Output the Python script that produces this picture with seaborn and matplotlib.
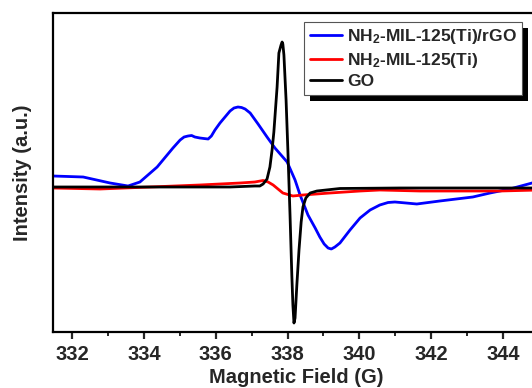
import matplotlib
matplotlib.use("Agg")
import matplotlib.pyplot as plt
import seaborn as sns
import pandas as pd
from matplotlib.patches import Rectangle
from matplotlib.ticker import MultipleLocator

# ---------------- data (Magnetic field in G, intensity in a.u.) ----------------
go_field = [331.47, 334.17, 336.40, 337.09, 337.23, 337.32, 337.43, 337.51, 337.57,
            337.62, 337.71, 337.76, 337.82, 337.85, 337.87, 337.90, 337.96, 338.01,
            338.07, 338.12, 338.15, 338.18, 338.21, 338.26, 338.32, 338.38, 338.43,
            338.51, 338.63, 338.82, 339.46, 341.13, 345.0]
go_int = [145, 145, 145, 146, 146, 148, 153, 165, 182,
          200, 245, 279, 287, 290, 288, 277, 232, 182,
          117, 57, 27, 9, 14, 47, 82, 110, 125,
          134, 139, 141, 143.5, 144, 144]

rgo_field = [331.47, 332.31, 333.06, 333.56, 333.89, 334.37, 334.81, 335.01, 335.12,
             335.23, 335.33, 335.42, 335.56, 335.67, 335.79, 335.88, 335.98, 336.12,
             336.40, 336.51, 336.62, 336.72, 336.82, 336.96, 337.18, 337.43, 337.65,
             337.99, 338.21, 338.35, 338.57, 338.77, 338.90, 339.02, 339.13, 339.22,
             339.32, 339.46, 339.74, 340.02, 340.30, 340.57, 340.80, 340.99, 341.30,
             341.60, 342.24, 343.16, 343.64, 344.19, 344.81, 345.0]
rgo_int = [156, 155, 149, 146, 150, 165, 184, 192, 195,
           196, 196.5, 195, 194, 193.5, 193, 196, 202, 209,
           221, 224, 225, 224.5, 223, 219, 208, 195, 184,
           170, 152, 137, 117, 104, 95, 88, 84, 83,
           85, 89, 102, 114, 122, 127, 129.5, 130, 129,
           128, 131, 135, 139, 143, 149, 152]

mil_field = [331.47, 332.78, 334.17, 335.56, 336.68, 337.09, 337.32, 337.46, 337.60,
             337.87, 338.15, 338.43, 339.18, 340.02, 340.57, 341.69, 342.80, 343.92, 345.0]
mil_int = [144, 143, 145, 147, 149, 150, 151.5, 150, 147,
           139, 136, 137, 139, 141, 142, 141, 141, 141, 142]

labels = [r"NH$_\mathbf{2}$-MIL-125(Ti)/rGO", r"NH$_\mathbf{2}$-MIL-125(Ti)", "GO"]
colors = ["#0000ff", "#ff0000", "#000000"]
xticks = [332, 334, 336, 338, 340, 342, 344]

# ---------------- style ----------------
sns.set_style("ticks")
plt.rcParams["font.family"] = ["Liberation Sans", "DejaVu Sans"]
plt.rcParams["font.weight"] = "bold"
plt.rcParams["mathtext.fontset"] = "custom"
plt.rcParams["mathtext.rm"] = "Liberation Sans:bold"
plt.rcParams["mathtext.bf"] = "Liberation Sans:bold"
plt.rcParams["mathtext.default"] = "bf"

W, H = 532, 388
fig = plt.figure(figsize=(W / 100, H / 100), dpi=100)
left_px, right_px, top_px, bottom_px = 53, 538.9, 13, 332
ax = fig.add_axes([left_px / W, 1 - bottom_px / H,
                   (right_px - left_px) / W, (bottom_px - top_px) / H])

frames = [
    (rgo_field, rgo_int, labels[0], colors[0]),
    (mil_field, mil_int, labels[1], colors[1]),
    (go_field, go_int, labels[2], colors[2]),
]
for fx, fy, lab, col in frames:
    df = pd.DataFrame({"field": fx, "intensity": fy})
    sns.lineplot(data=df, x="field", y="intensity", ax=ax, color=col,
                 linewidth=2.0, label=lab, sort=False, estimator=None)

ax.set_xlim(331.47, 345.0)
ax.set_ylim(0, 319)
ax.set_xticks(xticks)
ax.set_xticklabels([str(t) for t in xticks])
ax.xaxis.set_minor_locator(MultipleLocator(1))
ax.set_yticks([])
ax.tick_params(axis="x", which="major", direction="out", length=5, width=1.6,
               labelsize=14.5, pad=4)
ax.tick_params(axis="x", which="minor", direction="out", length=3, width=1.4)
for s in ["left", "bottom", "top", "right"]:
    ax.spines[s].set_linewidth(1.6)
    ax.spines[s].set_color("black")

ax.set_xlabel("Magnetic Field (G)", fontsize=14.5, fontweight="bold", labelpad=3)
ax.set_ylabel("Intensity (a.u.)", fontsize=14.5, fontweight="bold", labelpad=15)

leg = ax.legend(loc="upper right", bbox_to_anchor=(522 / W, 1 - 22 / H),
                bbox_transform=fig.transFigure, borderaxespad=0,
                frameon=True, fancybox=False, framealpha=1, edgecolor="#555555",
                handlelength=1.85, handletextpad=0.3,
                labelspacing=0.26, borderpad=0.3, prop={"weight": "bold", "size": 12.5})
leg.get_frame().set_linewidth(0.8)
for lh in leg.get_lines():
    lh.set_linewidth(2.0)
leg.set_zorder(10)

# solid shadow behind legend
fig.canvas.draw()
bb = leg.get_window_extent()
inv = fig.transFigure.inverted()
(x0, y0), (x1, y1) = inv.transform([[bb.x0 + 6, bb.y0 - 6], [bb.x1 + 6, bb.y1 - 6]])
ax.add_patch(Rectangle((x0, y0), x1 - x0, y1 - y0, transform=fig.transFigure,
                       facecolor="black", edgecolor="none", zorder=9, clip_on=False))

fig.savefig("out.png", dpi=100)
